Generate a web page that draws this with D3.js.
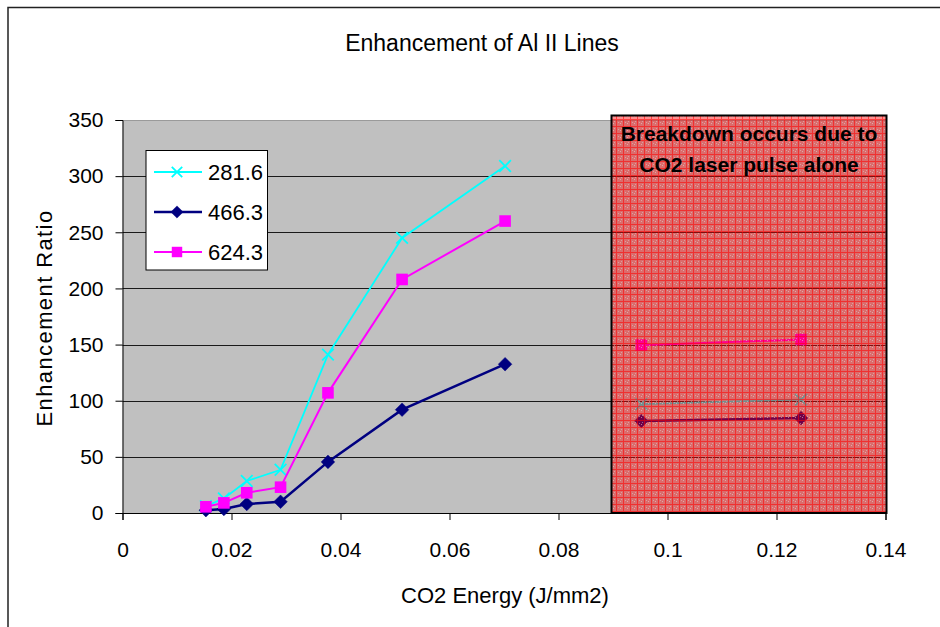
<!DOCTYPE html>
<html>
<head>
<meta charset="utf-8">
<script src="https://cdn.jsdelivr.net/npm/d3@7"></script>
<style>
  html, body { margin: 0; padding: 0; background: #fff; }
  svg { display: block; font-family: "Liberation Sans", Arial, sans-serif; }
</style>
</head>
<body>
<svg id="chart" width="940" height="627"></svg>
<script>
// ---- data ----
const energy = [0.0153, 0.0186, 0.0228, 0.0290, 0.0377, 0.0513, 0.0702];
const breakdownEnergy = [0.0952, 0.1245];
const seriesNames = ["281.6", "466.3", "624.3"];
const s281 = [6, 13, 28.5, 38.5, 141, 245, 309];
const s281b = [97, 101];
const s466 = [2.5, 3.5, 8, 10, 45.5, 92, 132.5];
const s466b = [82, 84.5];
const s624 = [5.5, 9, 18, 23, 107, 208, 260];
const s624b = [149.5, 154.5];
const xTicks = [0, 0.02, 0.04, 0.06, 0.08, 0.1, 0.12, 0.14];
const yTicks = [0, 50, 100, 150, 200, 250, 300, 350];
const breakdownStart = 0.09;
const annotation = ["Breakdown occurs due to", "CO2 laser pulse alone"];

const svg = d3.select("#chart");
const x = d3.scaleLinear().domain([0, 0.14]).range([122.5, 885.5]);
const y = d3.scaleLinear().domain([0, 350]).range([513, 120]);

// outer chart border
svg.append("rect").attr("x", 8).attr("y", 7.5).attr("width", 960).attr("height", 640)
  .attr("fill", "#fff").attr("stroke", "#222").attr("stroke-width", 1.5);

// title
svg.append("text").attr("x", 482).attr("y", 51).attr("text-anchor", "middle")
  .attr("font-size", 23).attr("fill", "#000").text("Enhancement of Al II Lines");

// plot area
svg.append("rect").attr("x", x(0)).attr("y", y(350)).attr("width", x(0.14) - x(0))
  .attr("height", y(0) - y(350)).attr("fill", "#C0C0C0");

// gridlines
svg.append("g").selectAll("line").data(yTicks.filter(d => d > 0)).join("line")
  .attr("x1", x(0)).attr("x2", x(0.14))
  .attr("y1", d => Math.round(y(d)) + 0.5).attr("y2", d => Math.round(y(d)) + 0.5)
  .attr("stroke", d => d === 350 ? "#9a9a9a" : "#1a1a1a").attr("stroke-width", 1);

// axes
const yAxis = d3.axisLeft(y).tickValues(yTicks).tickSize(7).tickPadding(12).tickFormat(d3.format("d"));
const gy = svg.append("g").attr("transform", `translate(${x(0)},0)`).call(yAxis);
gy.select(".domain").attr("stroke", "#000");
gy.selectAll(".tick line").attr("stroke", "#000");
gy.selectAll(".tick text").attr("font-size", 21).attr("fill", "#000")
  .attr("font-family", "Liberation Sans, Arial, sans-serif");

const xAxis = d3.axisBottom(x).tickValues(xTicks).tickSize(7).tickPadding(22)
  .tickFormat(d => d === 0 ? "0" : String(+d.toFixed(2)));
const gx = svg.append("g").attr("transform", `translate(0,${y(0)})`).call(xAxis);
gx.select(".domain").attr("stroke", "#000");
gx.selectAll(".tick line").attr("stroke", "#000");
gx.selectAll(".tick text").attr("font-size", 21).attr("fill", "#000")
  .attr("font-family", "Liberation Sans, Arial, sans-serif");

// axis titles
svg.append("text").attr("x", 505).attr("y", 603).attr("text-anchor", "middle")
  .attr("font-size", 22).attr("fill", "#000").text("CO2 Energy (J/mm2)");
svg.append("text").attr("transform", "translate(52,318) rotate(-90)").attr("text-anchor", "middle")
  .attr("font-size", 22).attr("letter-spacing", 1.4).attr("fill", "#000").text("Enhancement Ratio");

// series
const series = [
  { name: seriesNames[0], a: s281, b: s281b, color: "#00FFFF", width: 1.8, marker: "x" },
  { name: seriesNames[1], a: s466, b: s466b, color: "#000080", width: 2.5, marker: "diamond" },
  { name: seriesNames[2], a: s624, b: s624b, color: "#FF00FF", width: 2, marker: "square" }
];
const line = d3.line().x(d => x(d[0])).y(d => y(d[1]));

function drawMarker(g, type, cx, cy, color, scale) {
  const s = scale || 1;
  if (type === "x") {
    const r = 5.8 * s;
    g.append("path").attr("d", `M${cx - r},${cy - r}L${cx + r},${cy + r}M${cx - r},${cy + r}L${cx + r},${cy - r}`)
      .attr("stroke", color).attr("stroke-width", 1.8).attr("fill", "none");
  } else if (type === "diamond") {
    const r = 6.8 * s;
    g.append("path").attr("d", `M${cx},${cy - r}L${cx + r},${cy}L${cx},${cy + r}L${cx - r},${cy}Z`)
      .attr("fill", color).attr("stroke", color).attr("stroke-width", 0.5);
  } else {
    const r = 5.8 * s;
    g.append("rect").attr("x", cx - r).attr("y", cy - r).attr("width", 2 * r).attr("height", 2 * r)
      .attr("fill", color);
  }
}

const gData = svg.append("g");
series.forEach(s => {
  const ptsA = energy.map((e, i) => [e, s.a[i]]);
  const ptsB = breakdownEnergy.map((e, i) => [e, s.b[i]]);
  [ptsA, ptsB].forEach(pts => {
    gData.append("path").attr("d", line(pts)).attr("fill", "none")
      .attr("stroke", s.color).attr("stroke-width", s.width);
    pts.forEach(p => drawMarker(gData, s.marker, x(p[0]), y(p[1]), s.color));
  });
});

// breakdown box with hatch pattern
const defs = svg.append("defs");
const pat = defs.append("pattern").attr("id", "hatch").attr("patternUnits", "userSpaceOnUse")
  .attr("width", 7).attr("height", 7);
pat.append("rect").attr("width", 7).attr("height", 7).attr("fill", "rgb(255,0,0)").attr("fill-opacity", 0.44);
pat.append("rect").attr("x", 0).attr("y", 0).attr("width", 1).attr("height", 7).attr("fill", "rgb(255,0,0)").attr("fill-opacity", 0.55);
pat.append("rect").attr("x", 1).attr("y", 0).attr("width", 6).attr("height", 1).attr("fill", "rgb(255,0,0)").attr("fill-opacity", 0.55);
pat.append("rect").attr("x", 4).attr("y", 4).attr("width", 1).attr("height", 1).attr("fill", "#dcdcdc").attr("fill-opacity", 0.55);
pat.append("rect").attr("x", 2).attr("y", 3).attr("width", 1).attr("height", 1).attr("fill", "#dcdcdc").attr("fill-opacity", 0.45);
pat.append("rect").attr("x", 5).attr("y", 2).attr("width", 1).attr("height", 1).attr("fill", "#dcdcdc").attr("fill-opacity", 0.45);

const bx0 = x(breakdownStart) - 1.5, bx1 = x(0.14) + 1, by0 = 115.5, by1 = y(0);
svg.append("rect").attr("x", bx0).attr("y", by0).attr("width", bx1 - bx0).attr("height", by1 - by0)
  .attr("fill", "url(#hatch)").attr("stroke", "#000").attr("stroke-width", 2);
svg.append("g").selectAll("text").data(annotation).join("text")
  .attr("x", (bx0 + bx1) / 2).attr("y", (d, i) => 141 + i * 31)
  .attr("text-anchor", "middle").attr("font-size", 21).attr("font-weight", "bold").attr("fill", "#000")
  .text(d => d);

// legend
const lg = svg.append("g");
lg.append("rect").attr("x", 146).attr("y", 150.5).attr("width", 121.5).attr("height", 119.5)
  .attr("fill", "#fff").attr("stroke", "#000").attr("stroke-width", 1);
series.forEach((s, i) => {
  const cy = 172 + i * 40;
  lg.append("line").attr("x1", 154).attr("x2", 202).attr("y1", cy).attr("y2", cy)
    .attr("stroke", s.color).attr("stroke-width", s.width);
  drawMarker(lg, s.marker, 177, cy, s.color, 0.9);
  lg.append("text").attr("x", 208).attr("y", cy + 8).attr("font-size", 22).attr("fill", "#000").text(s.name);
});
</script>
</body>
</html>
